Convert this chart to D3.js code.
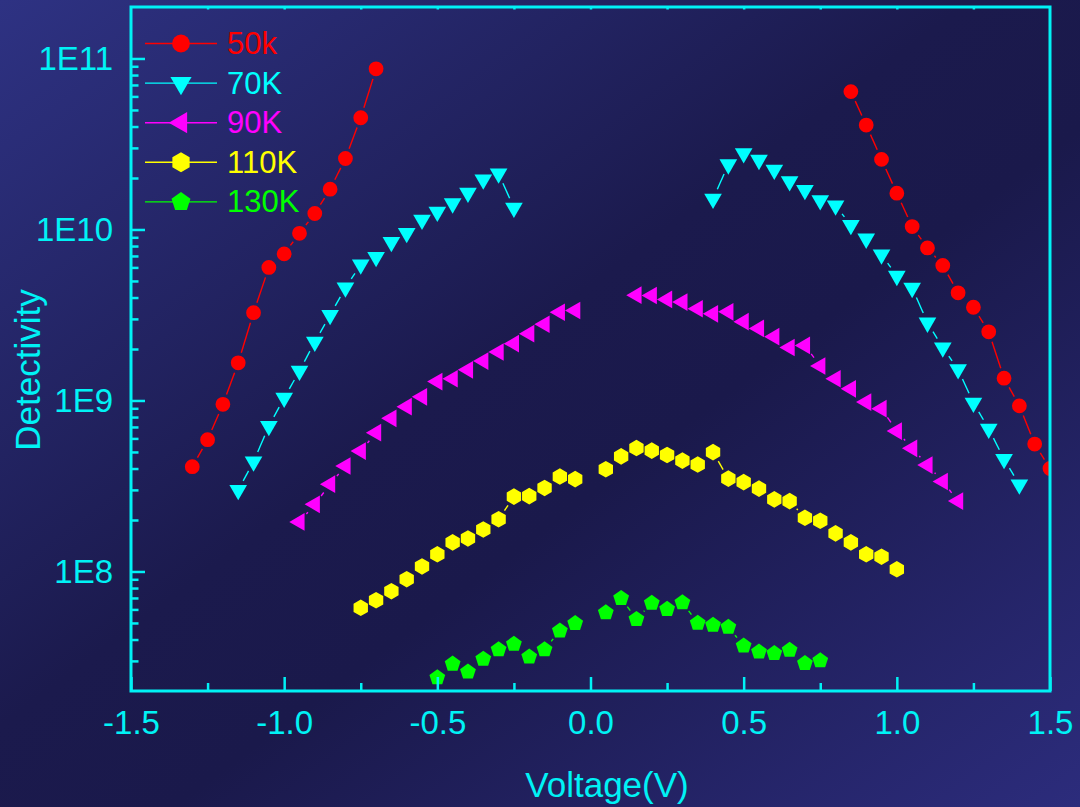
<!DOCTYPE html>
<html>
<head>
<meta charset="utf-8">
<script src="https://cdn.jsdelivr.net/npm/d3@7"></script>
<style>
  html, body { margin: 0; padding: 0; background: #1b1a4d; }
  svg { display: block; }
  text { font-family: "Liberation Sans", Arial, sans-serif; }
</style>
</head>
<body>
<svg id="chart" width="1080" height="807"></svg>
<script>
// Detectivity vs. bias voltage at five temperatures
const temps  = ["50k", "70K", "90K", "110K", "130K"];
const colors = ["#ff0000", "#00ffff", "#ff00ff", "#ffff00", "#00ff00"];
const shapes = ["circle", "triDown", "triLeft", "hexagon", "pentagon"];

// 50 K
const v50Neg = [-1.30, -1.25, -1.20, -1.15, -1.10, -1.05, -1.00, -0.95, -0.90, -0.85, -0.80, -0.75, -0.70];
const d50Neg = [4.1e8, 5.9e8, 9.5e8, 1.66e9, 3.26e9, 6.0e9, 7.2e9, 9.5e9, 1.24e10, 1.72e10, 2.6e10, 4.5e10, 8.7e10];
const v50Pos = [0.85, 0.90, 0.95, 1.00, 1.05, 1.10, 1.15, 1.20, 1.25, 1.30, 1.35, 1.40, 1.45, 1.50];
const d50Pos = [6.4e10, 4.08e10, 2.57e10, 1.63e10, 1.04e10, 7.8e9, 6.16e9, 4.26e9, 3.51e9, 2.52e9, 1.35e9, 9.3e8, 5.56e8, 4.0e8];

// 70 K
const v70Neg = [-1.15, -1.10, -1.05, -1.00, -0.95, -0.90, -0.85, -0.80, -0.75, -0.70, -0.65, -0.60, -0.55, -0.50, -0.45, -0.40, -0.35, -0.30, -0.25];
const d70Neg = [2.99e8, 4.39e8, 7.08e8, 1.035e9, 1.49e9, 2.20e9, 3.16e9, 4.57e9, 6.23e9, 6.90e9, 8.45e9, 9.53e9, 1.14e10, 1.27e10, 1.42e10, 1.64e10, 1.96e10, 2.12e10, 1.34e10];
const v70Pos = [0.40, 0.45, 0.50, 0.55, 0.60, 0.65, 0.70, 0.75, 0.80, 0.85, 0.90, 0.95, 1.00, 1.05, 1.10, 1.15, 1.20, 1.25, 1.30, 1.35, 1.40];
const d70Pos = [1.51e10, 2.40e10, 2.79e10, 2.55e10, 2.23e10, 1.91e10, 1.70e10, 1.48e10, 1.38e10, 1.06e10, 8.83e9, 7.14e9, 5.35e9, 4.55e9, 2.85e9, 2.04e9, 1.52e9, 9.69e8, 6.83e8, 4.54e8, 3.22e8];

// 90 K
const v90Neg = [-0.95, -0.90, -0.85, -0.80, -0.75, -0.70, -0.65, -0.60, -0.55, -0.50, -0.45, -0.40, -0.35, -0.30, -0.25, -0.20, -0.15, -0.10, -0.05];
const d90Neg = [1.95e8, 2.47e8, 3.24e8, 4.14e8, 5.06e8, 6.48e8, 7.86e8, 9.2e8, 1.05e9, 1.29e9, 1.34e9, 1.51e9, 1.70e9, 1.92e9, 2.15e9, 2.46e9, 2.79e9, 3.28e9, 3.36e9];
const v90Pos = [0.15, 0.20, 0.25, 0.30, 0.35, 0.40, 0.45, 0.50, 0.55, 0.60, 0.65, 0.70, 0.75, 0.80, 0.85, 0.90, 0.95, 1.00, 1.05, 1.10, 1.15, 1.20];
const d90Pos = [4.13e9, 4.11e9, 3.90e9, 3.76e9, 3.44e9, 3.21e9, 3.30e9, 2.89e9, 2.64e9, 2.36e9, 2.04e9, 2.10e9, 1.59e9, 1.34e9, 1.17e9, 9.79e8, 8.96e8, 6.62e8, 5.25e8, 4.19e8, 3.36e8, 2.58e8];

// 110 K
const v110Neg = [-0.75, -0.70, -0.65, -0.60, -0.55, -0.50, -0.45, -0.40, -0.35, -0.30, -0.25, -0.20, -0.15, -0.10, -0.05];
const d110Neg = [6.13e7, 6.79e7, 7.67e7, 9.01e7, 1.07e8, 1.26e8, 1.48e8, 1.56e8, 1.76e8, 2.02e8, 2.74e8, 2.76e8, 3.08e8, 3.59e8, 3.47e8];
const v110Pos = [0.05, 0.10, 0.15, 0.20, 0.25, 0.30, 0.35, 0.40, 0.45, 0.50, 0.55, 0.60, 0.65, 0.70, 0.75, 0.80, 0.85, 0.90, 0.95, 1.00];
const d110Pos = [3.96e8, 4.71e8, 5.27e8, 5.09e8, 4.80e8, 4.45e8, 4.22e8, 4.99e8, 3.49e8, 3.33e8, 3.05e8, 2.64e8, 2.58e8, 2.06e8, 1.98e8, 1.67e8, 1.48e8, 1.26e8, 1.22e8, 1.03e8];

// 130 K
const v130Neg = [-0.50, -0.45, -0.40, -0.35, -0.30, -0.25, -0.20, -0.15, -0.10, -0.05];
const d130Neg = [2.40e7, 2.88e7, 2.59e7, 3.08e7, 3.49e7, 3.76e7, 3.17e7, 3.50e7, 4.50e7, 4.97e7];
const v130Pos = [0.05, 0.10, 0.15, 0.20, 0.25, 0.30, 0.35, 0.40, 0.45, 0.50, 0.55, 0.60, 0.65, 0.70, 0.75];
const d130Pos = [5.76e7, 6.98e7, 5.26e7, 6.53e7, 6.02e7, 6.59e7, 4.99e7, 4.86e7, 4.73e7, 3.68e7, 3.39e7, 3.32e7, 3.47e7, 2.90e7, 3.01e7];

// Axis ticks
const xMajor = [-1.5, -1.0, -0.5, 0.0, 0.5, 1.0, 1.5];
const xMinor = [-1.25, -0.75, -0.25, 0.25, 0.75, 1.25];
const yMajor = [1e8, 1e9, 1e10, 1e11];

const zip = (v, d) => v.map((x, i) => ({ v: x, d: d[i] }));
const branches = [
  [zip(v50Neg, d50Neg),   zip(v50Pos, d50Pos)],
  [zip(v70Neg, d70Neg),   zip(v70Pos, d70Pos)],
  [zip(v90Neg, d90Neg),   zip(v90Pos, d90Pos)],
  [zip(v110Neg, d110Neg), zip(v110Pos, d110Pos)],
  [zip(v130Neg, d130Neg), zip(v130Pos, d130Pos)]
];

const AXIS = "#00f2f5";
const svg = d3.select("#chart");
const W = 1080, H = 807;
const plot = { left: 131, right: 1050, top: 7, bottom: 691 };

// background
const defs = svg.append("defs");
const grad = defs.append("linearGradient").attr("id", "bg")
  .attr("x1", 0).attr("y1", 0).attr("x2", 1).attr("y2", 1);
grad.append("stop").attr("offset", "0%").attr("stop-color", "#2e3283");
grad.append("stop").attr("offset", "45%").attr("stop-color", "#1b1a4d");
grad.append("stop").attr("offset", "58%").attr("stop-color", "#1a194b");
grad.append("stop").attr("offset", "100%").attr("stop-color", "#2c2c7c");
svg.append("rect").attr("width", W).attr("height", H).attr("fill", "url(#bg)");

defs.append("clipPath").attr("id", "plotClip").append("rect")
  .attr("x", plot.left).attr("y", plot.top)
  .attr("width", plot.right - plot.left).attr("height", plot.bottom - plot.top);

const x = d3.scaleLinear().domain([-1.5, 1.5]).range([plot.left, plot.right]);
const y = d3.scaleLog().domain([2e7, 2e11]).range([plot.bottom, plot.top]);

// marker outlines
function markerPath(shape, s) {
  const p = d3.path();
  const poly = (R, startDeg, n) => {
    for (let k = 0; k < n; k++) {
      const a = (startDeg + k * 360 / n) * Math.PI / 180;
      const px = R * Math.cos(a), py = R * Math.sin(a);
      if (k === 0) p.moveTo(px, py); else p.lineTo(px, py);
    }
    p.closePath();
  };
  switch (shape) {
    case "circle":   p.arc(0, 0, 7.4 * s, 0, 2 * Math.PI); break;
    case "triDown":  poly(10.2 * s, 90, 3); break;
    case "triLeft":  poly(10.2 * s, 180, 3); break;
    case "hexagon":  poly(8.3 * s, -90, 6); break;
    case "pentagon": poly(8.3 * s, -90, 5); break;
  }
  return p.toString();
}

// connecting lines, broken around each marker
const gap = 10.5;
const gPlot = svg.append("g").attr("clip-path", "url(#plotClip)");
branches.forEach((pair, si) => {
  pair.forEach(pts => {
    const segs = d3.pairs(pts).map(([a, b]) => {
      const x1 = x(a.v), y1 = y(a.d), x2 = x(b.v), y2 = y(b.d);
      const len = Math.hypot(x2 - x1, y2 - y1);
      if (len <= 2 * gap + 1) return null;
      const ux = (x2 - x1) / len, uy = (y2 - y1) / len;
      return [x1 + ux * gap, y1 + uy * gap, x2 - ux * gap, y2 - uy * gap];
    }).filter(Boolean);
    gPlot.append("g").selectAll("line").data(segs).join("line")
      .attr("x1", d => d[0]).attr("y1", d => d[1])
      .attr("x2", d => d[2]).attr("y2", d => d[3])
      .attr("stroke", colors[si]).attr("stroke-width", 1.4);
  });
});

// markers
branches.forEach((pair, si) => {
  const pts = pair[0].concat(pair[1]);
  gPlot.append("g").selectAll("path").data(pts).join("path")
    .attr("transform", d => `translate(${x(d.v)},${y(d.d)})`)
    .attr("d", markerPath(shapes[si], 1))
    .attr("fill", colors[si]);
});

// axes
const fmtX = d => d.toFixed(1);
const fmtY = d => "1E" + Math.round(Math.log10(d));

function styleAxis(g) {
  g.select(".domain").remove();
  g.selectAll(".tick line").attr("stroke", AXIS).attr("stroke-width", 2.5);
  g.selectAll(".tick text").attr("fill", AXIS).attr("font-size", 33)
    .attr("font-family", "'Liberation Sans', Arial, sans-serif");
}

svg.append("g").attr("transform", `translate(0,${plot.bottom})`)
  .call(d3.axisBottom(x).tickValues(xMajor).tickFormat(fmtX).tickSize(-14).tickSizeOuter(0).tickPadding(20))
  .call(styleAxis);
svg.append("g").attr("transform", `translate(0,${plot.bottom})`)
  .call(d3.axisBottom(x).tickValues(xMinor).tickFormat("").tickSize(-8).tickSizeOuter(0))
  .call(styleAxis);
svg.append("g").attr("transform", `translate(0,${plot.top})`)
  .call(d3.axisTop(x).tickValues(xMinor.concat(xMajor.slice(1, -1))).tickFormat("").tickSize(-2.5).tickSizeOuter(0))
  .call(styleAxis);

const yMinor = [];
[1e7, 1e8, 1e9, 1e10, 1e11].forEach(dec => {
  for (let m = 2; m <= 9; m++) {
    const v = m * dec;
    if (v > 2e7 && v < 2e11) yMinor.push(v);
  }
});

svg.append("g").attr("transform", `translate(${plot.left},0)`)
  .call(d3.axisLeft(y).tickValues(yMajor).tickFormat(fmtY).tickSize(-14).tickSizeOuter(0).tickPadding(18))
  .call(styleAxis);
svg.append("g").attr("transform", `translate(${plot.left},0)`)
  .call(d3.axisLeft(y).tickValues(yMinor).tickFormat("").tickSize(-7.5).tickSizeOuter(0))
  .call(styleAxis);

// frame
svg.append("rect")
  .attr("x", plot.left).attr("y", plot.top)
  .attr("width", plot.right - plot.left).attr("height", plot.bottom - plot.top)
  .attr("fill", "none").attr("stroke", AXIS).attr("stroke-width", 3);

// axis titles
svg.append("text").attr("x", 607).attr("y", 797).attr("text-anchor", "middle")
  .attr("fill", AXIS).attr("font-size", 35).text("Voltage(V)");
svg.append("text").attr("transform", "translate(40,370) rotate(-90)")
  .attr("text-anchor", "middle").attr("fill", AXIS).attr("font-size", 35).text("Detectivity");

// legend
const legend = svg.append("g");
temps.forEach((t, i) => {
  const ly = 43.5 + i * 39.6;
  const row = legend.append("g").attr("transform", `translate(0,${ly})`);
  row.append("line").attr("x1", 145).attr("x2", 217).attr("y1", 0).attr("y2", 0)
    .attr("stroke", colors[i]).attr("stroke-width", 1.4);
  row.append("path").attr("transform", "translate(181,0)")
    .attr("d", markerPath(shapes[i], 1.2)).attr("fill", colors[i]);
  row.append("text").attr("x", 227).attr("y", 10.5)
    .attr("fill", colors[i]).attr("font-size", 31).text(t);
});
</script>
</body>
</html>
